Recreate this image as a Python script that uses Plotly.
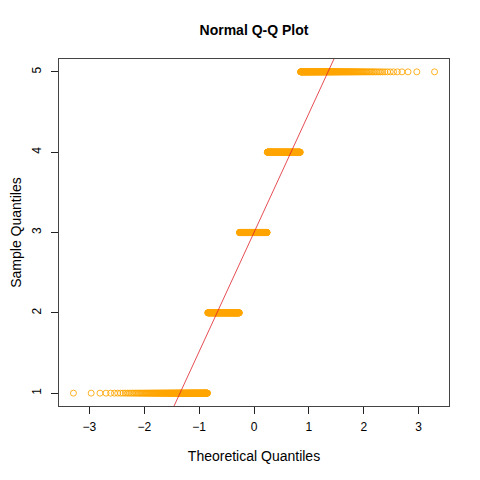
from statistics import NormalDist
import numpy as np
import plotly.graph_objects as go

# sample: 1000 answers on a 1-5 scale, counts
levels = [1, 2, 3, 4, 5]
counts = [199, 196, 200, 206, 199]

sample = np.repeat(levels, counts)
n = len(sample)

# qqnorm: theoretical quantiles at ppoints(n)
probs = (np.arange(1, n + 1) - 0.5) / n
nd = NormalDist()
theo = np.array([nd.inv_cdf(p) for p in probs])

# qqline through the quartiles
q_s = np.quantile(sample, [0.25, 0.75])
q_t = np.array([nd.inv_cdf(0.25), nd.inv_cdf(0.75)])
slope = (q_s[1] - q_s[0]) / (q_t[1] - q_t[0])
intercept = q_s[0] - slope * q_t[0]

ext = 0.04 * (theo.max() - theo.min())
xr = [theo.min() - ext, theo.max() + ext]
yr = [0.84, 5.16]
line_x = np.array(xr)

font = "Liberation Sans, Arial, sans-serif"

fig = go.Figure()
fig.add_trace(go.Scatter(
    x=theo, y=sample, mode="markers",
    marker=dict(symbol="circle-open", size=6, color="rgba(255,165,0,0.85)",
                line=dict(width=1)),
    hoverinfo="x+y", showlegend=False,
))
fig.add_trace(go.Scatter(
    x=line_x, y=intercept + slope * line_x, mode="lines",
    line=dict(color="#e0202a", width=0.8), showlegend=False,
))

# page body has an 8px margin, margins below account for it
fig.update_layout(
    width=480, height=480,
    margin=dict(l=51, r=39, t=51, b=82, autoexpand=False),
    paper_bgcolor="white", plot_bgcolor="white",
    font=dict(family=font, size=12, color="black"),
    title=dict(text="<b>Normal Q-Q Plot</b>", x=(254 - 8) / 480, xanchor="center",
               xref="container", yref="container",
               y=1 - (30 - 8) / 480, yanchor="middle",
               font=dict(size=14, family=font)),
    xaxis=dict(
        range=xr, tickvals=[-3, -2, -1, 0, 1, 2, 3],
        showgrid=False, zeroline=False, showline=True, mirror=True,
        linecolor="#444", linewidth=1, ticks="outside", ticklen=7,
        tickcolor="#222", ticklabelstandoff=3, automargin=False,
        title=dict(text="Theoretical Quantiles", standoff=17),
    ),
    yaxis=dict(
        range=yr, tickvals=[1, 2, 3, 4, 5], tickangle=-90,
        showgrid=False, zeroline=False, showline=True, mirror=True,
        linecolor="#444", linewidth=1, ticks="outside", ticklen=7,
        tickcolor="#222", ticklabelstandoff=5, automargin=False,
        title=dict(text="Sample Quantiles", standoff=16),
    ),
)

fig.write_html("out.html")
